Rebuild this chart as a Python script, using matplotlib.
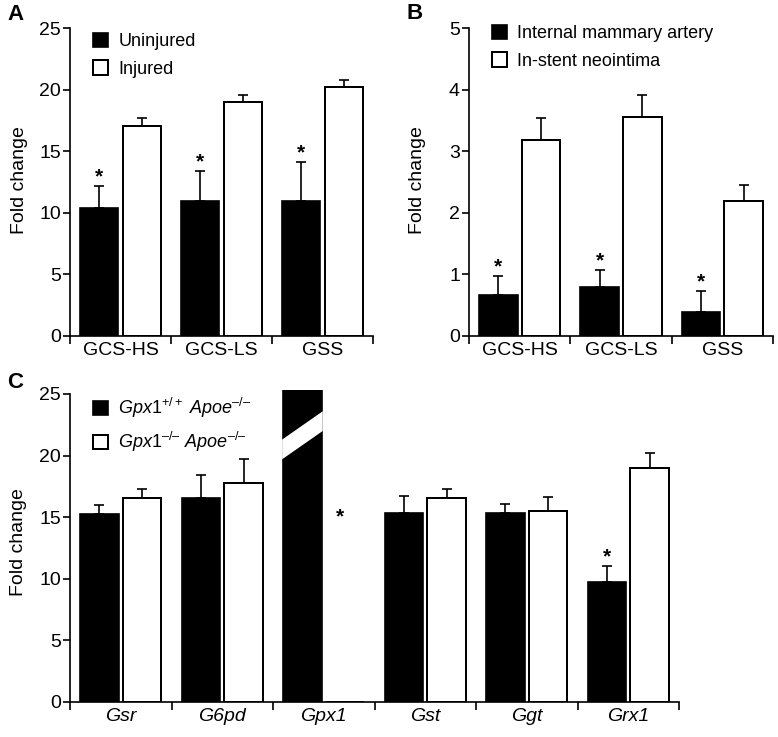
import matplotlib
matplotlib.use("Agg")
import matplotlib.pyplot as plt
import numpy as np
from matplotlib.patches import Polygon

plt.rcParams['font.family'] = ['Liberation Sans', 'DejaVu Sans']
plt.rcParams['mathtext.fontset'] = 'custom'
plt.rcParams['mathtext.rm'] = 'Liberation Sans'
plt.rcParams['mathtext.it'] = 'Liberation Sans:italic'

# ---------------- data ----------------
a_categories = ["GCS-HS", "GCS-LS", "GSS"]
a_uninjured = [10.4, 11.0, 11.0]
a_uninjured_err = [1.8, 2.4, 3.15]
a_injured = [17.1, 19.0, 20.2]
a_injured_err = [0.6, 0.6, 0.6]
a_stars = [True, True, True]

b_categories = ["GCS-HS", "GCS-LS", "GSS"]
b_ima = [0.67, 0.80, 0.39]
b_ima_err = [0.31, 0.28, 0.34]
b_neo = [3.18, 3.56, 2.19]
b_neo_err = [0.37, 0.36, 0.27]
b_stars = [True, True, True]

c_categories = ["Gsr", "G6pd", "Gpx1", "Gst", "Ggt", "Grx1"]
c_wt = [15.3, 16.56, 60.0, 15.34, 15.34, 9.74]
c_wt_err = [0.65, 1.85, 0.0, 1.4, 0.75, 1.3]
c_ko = [16.56, 17.8, 0.0, 16.56, 15.53, 18.97]
c_ko_err = [0.7, 1.95, 0.0, 0.7, 1.15, 1.25]
c_stars_wt = [False, False, False, False, False, True]
c_star_ko_gpx1 = 14.55   # asterisk level over the absent Gpx1-/- bar

W, H = 778, 737
fig = plt.figure(figsize=(W / 100, H / 100), dpi=100)

def axes_px(left, right, top_px, bottom_px):
    return fig.add_axes([left / W, 1 - bottom_px / H, (right - left) / W, (bottom_px - top_px) / H])

OFF = 0.21
BW = 0.38
LW = 1.2
TICKFS = 14
LEGFS = 13

def draw_panel(ax, cats, black, black_err, white, white_err, ymax, ytop, yticks,
               labels, italic=False, stars=None):
    x = np.arange(len(cats))
    ax.bar(x - OFF, black, BW, color='black', edgecolor='black', linewidth=LW, zorder=2,
           label=labels[0])
    ax.bar(x + OFF, white, BW, color='white', edgecolor='black', linewidth=LW * 1.2, zorder=2,
           label=labels[1])
    for xi, v, e in zip(x - OFF, black, black_err):
        if e > 0:
            ax.errorbar(xi, v, yerr=[[0], [e]], color='black', lw=LW, capsize=3.5,
                        capthick=LW, zorder=1)
    for xi, v, e in zip(x + OFF, white, white_err):
        if e > 0:
            ax.errorbar(xi, v, yerr=[[0], [e]], color='black', lw=LW, capsize=3.5,
                        capthick=LW, zorder=1)
    if stars is not None:
        for xi, v, e, s in zip(x - OFF, black, black_err, stars):
            if s:
                ax.annotate("*", xy=(xi, v + e), xytext=(0, 2.5), textcoords='offset points',
                            ha='center', va='baseline', fontsize=15, fontweight='bold')
    ax.set_xlim(-0.5, len(cats) - 0.5)
    ax.set_ylim(0, ytop)
    ax.set_yticks(yticks)
    ax.set_yticklabels([str(t) for t in yticks], fontsize=TICKFS)
    ax.set_xticks(x)
    ax.set_xticklabels(cats, fontsize=TICKFS, style='italic' if italic else 'normal')
    ax.set_xticks(np.arange(len(cats) + 1) - 0.5, minor=True)
    ax.tick_params(axis='x', which='major', length=0, pad=4)
    ax.tick_params(axis='x', which='minor', length=5.5, width=LW, direction='out')
    ax.tick_params(axis='y', which='major', length=5, width=LW, direction='out', pad=1.5)
    for s in ['top', 'right']:
        ax.spines[s].set_visible(False)
    ax.spines['left'].set_bounds(0, ymax)
    ax.spines['left'].set_linewidth(LW)
    ax.spines['bottom'].set_linewidth(LW)
    return x

# Panel A
axA = axes_px(70, 373, 28.3, 336)
draw_panel(axA, a_categories, a_uninjured, a_uninjured_err, a_injured, a_injured_err,
           25, 25, [0, 5, 10, 15, 20, 25], ["Uninjured", "Injured"], stars=a_stars)

# Panel B
axB = axes_px(469, 773, 28.3, 336)
draw_panel(axB, b_categories, b_ima, b_ima_err, b_neo, b_neo_err,
           5, 5, [0, 1, 2, 3, 4, 5], ["Internal mammary artery", "In-stent neointima"],
           stars=b_stars)

# Panel C
ytopC = 25.35
axC = axes_px(70, 679, 702 - 308 * ytopC / 25, 702)
xc = draw_panel(axC, c_categories, c_wt, c_wt_err, c_ko, c_ko_err,
                25, ytopC, [0, 5, 10, 15, 20, 25],
                ["$\\mathit{Gpx1}^{+/+}\\ \\mathit{Apoe}^{\u2013/\u2013}$",
                 "$\\mathit{Gpx1}^{\u2013/\u2013}\\ \\mathit{Apoe}^{\u2013/\u2013}$"],
                italic=True, stars=c_stars_wt)
# axis break on the off-scale Gpx1+/+ bar
gi = c_categories.index("Gpx1")
xl, xr = xc[gi] - OFF - BW / 2 - 0.01, xc[gi] - OFF + BW / 2 + 0.01
axC.add_patch(Polygon([[xl, 19.7], [xr, 22.0], [xr, 23.6], [xl, 21.3]], closed=True,
                      facecolor='white', edgecolor='none', zorder=3))
axC.annotate("*", xy=(xc[gi] + OFF - 0.05, c_star_ko_gpx1), ha='center', va='baseline',
             fontsize=15, fontweight='bold')

# legends
def legend_at(ax, xpx, ypx):
    leg = ax.legend(loc='upper left', bbox_to_anchor=(xpx / W, 1 - ypx / H),
                    bbox_transform=fig.transFigure, frameon=False, fontsize=LEGFS,
                    handlelength=0.85, handleheight=0.85, handletextpad=0.55,
                    labelspacing=0.55, borderpad=0, borderaxespad=0)
    return leg

legend_at(axA, 93, 33)
legend_at(axB, 492, 25)
legend_at(axC, 93, 396)

# y labels
fig.text(20 / W, 1 - 180 / H, "Fold change", rotation=90, ha='center', va='center', fontsize=TICKFS)
fig.text(417 / W, 1 - 180 / H, "Fold change", rotation=90, ha='center', va='center', fontsize=TICKFS)
fig.text(19 / W, 1 - 542 / H, "Fold change", rotation=90, ha='center', va='center', fontsize=TICKFS)

# panel letters
fig.text(7 / W, 1 - 4 / H, "A", fontsize=16, fontweight='bold', ha='left', va='top')
fig.text(406 / W, 1 - 3 / H, "B", fontsize=16, fontweight='bold', ha='left', va='top')
fig.text(7 / W, 1 - 372 / H, "C", fontsize=16, fontweight='bold', ha='left', va='top')

fig.savefig("out.png", dpi=100)
